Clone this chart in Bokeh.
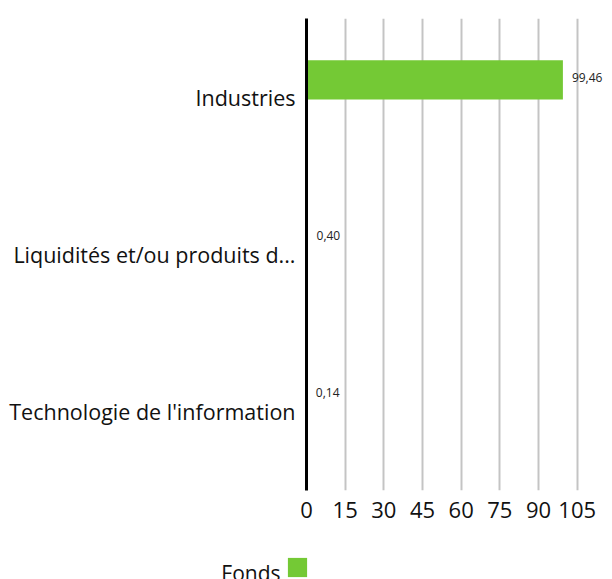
from bokeh.plotting import figure
from bokeh.layouts import column, row
from bokeh.models import (ColumnDataSource, FixedTicker, Legend, LegendItem, LabelSet,
                          FactorRange, Range1d, Label)
from bokeh.transform import dodge
from bokeh.core.properties import value
from bokeh.embed import file_html
from bokeh.resources import INLINE

categories = ["Industries", "Liquidités et/ou produits d...", "Technologie de l'information"]
fonds = [99.46, 0.40, 0.14]
x_ticks = [0, 15, 30, 45, 60, 75, 90, 105]
series_name = "Fonds"

FONT = "Open Sans"
GREEN = "#74C935"

labels = [f"{v:.2f}".replace(".", ",") for v in fonds]
src = ColumnDataSource(dict(cat=categories, val=fonds, lab=labels))

p = figure(width=612, height=545, output_backend="svg", toolbar_location=None,
           y_range=FactorRange(*list(reversed(categories))), x_range=(0, 118.7),
           min_border_left=306, min_border_right=0, min_border_top=18, min_border_bottom=55)
p.outline_line_color = None
p.background_fill_color = None
p.border_fill_color = None

bars = p.hbar(y=dodge("cat", 0.11, range=p.y_range), right="val", left=0, height=0.25,
              source=src, fill_color=GREEN, line_color=None)

lbl = LabelSet(x="val", y=dodge("cat", 0.11, range=p.y_range), text="lab", source=src,
               x_offset=9, y_offset=2, text_font=value(FONT), text_font_size="12px",
               text_baseline="middle", text_align="left", text_color="#222222")
p.add_layout(lbl)

p.xaxis.ticker = FixedTicker(ticks=x_ticks)
p.xaxis.axis_line_color = None
p.xaxis.major_tick_line_color = None
p.xaxis.minor_tick_line_color = None
p.xaxis.major_label_text_font = FONT
p.xaxis.major_label_text_font_size = "22px"
p.xaxis.major_label_text_color = "#111111"
p.xaxis.major_label_standoff = 5

p.yaxis.axis_line_color = "black"
p.yaxis.axis_line_width = 3
p.yaxis.major_tick_line_color = None
p.yaxis.minor_tick_line_color = None
p.yaxis.major_label_text_font = FONT
p.yaxis.major_label_text_font_size = "21.5px"
p.yaxis.major_label_text_color = "#111111"
p.yaxis.major_label_standoff = 5

p.xgrid.grid_line_color = "#c4c4c4"
p.xgrid.grid_line_width = 2
p.ygrid.grid_line_color = None

# legend strip below the chart: series name, then its colour swatch
p2 = figure(width=612, height=34, output_backend="svg", toolbar_location=None,
            x_axis_type=None, y_axis_type=None,
            y_range=FactorRange(series_name), x_range=Range1d(0, 118.7),
            min_border_left=0, min_border_right=0, min_border_top=0, min_border_bottom=0)
p2.outline_line_color = None
p2.grid.grid_line_color = None
p2.background_fill_color = None
p2.border_fill_color = None
lr = p2.hbar(y="cat", right="val", left=0, height=0.25, source=src,
             fill_color=GREEN, line_color=None)

legend = Legend(items=[LegendItem(label=value(""), renderers=[lr])],
                location=(285, 0), orientation="horizontal",
                glyph_width=24, glyph_height=24, padding=0, margin=0, spacing=0,
                label_standoff=0, label_width=0, label_height=24,
                border_line_color=None, background_fill_alpha=0)
p2.add_layout(legend, "center")

name_label = Label(x=280, y=7, x_units="screen", y_units="screen", text=series_name,
                   text_font=FONT, text_font_size="21px", text_color="#111111",
                   text_align="right", text_baseline="alphabetic")
p2.add_layout(name_label)

layout = column(p, row(p2, spacing=0), spacing=0)
open("out.html", "w").write(file_html(layout, INLINE))
